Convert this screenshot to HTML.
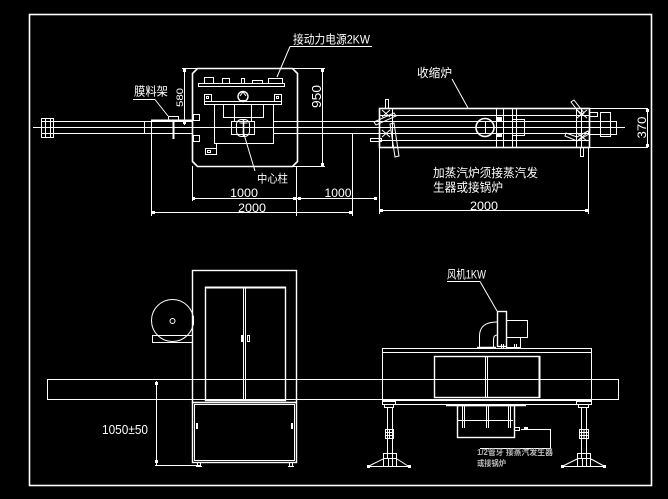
<!DOCTYPE html>
<html><head><meta charset="utf-8"><style>
html,body{margin:0;padding:0;background:#000;}
svg{display:block;}
text{font-family:"Liberation Sans","Noto Sans CJK SC",sans-serif;fill:#fff;}
</style></head><body>
<svg width="668" height="499" viewBox="0 0 668 499" xmlns="http://www.w3.org/2000/svg">
<rect width="668" height="499" fill="#000"/>
<g stroke="#fff" fill="none" stroke-width="1">
<!-- frame -->
<rect x="29.5" y="14.5" width="622" height="471" stroke-width="1.6"/>

<!-- ===== TOP VIEW LEFT ===== -->
<line x1="33" y1="127.5" x2="625" y2="127.5"/>
<line x1="41" y1="121.5" x2="192" y2="121.5"/>
<line x1="41" y1="133.5" x2="192" y2="133.5"/>
<line x1="273" y1="121.5" x2="380" y2="121.5"/>
<line x1="273" y1="133.5" x2="380" y2="133.5"/>
<rect x="41.5" y="118.5" width="12" height="19"/>
<line x1="45.5" y1="118" x2="45.5" y2="138"/>
<line x1="50.5" y1="118" x2="50.5" y2="138"/>
<line x1="144.5" y1="121" x2="144.5" y2="134"/>
<line x1="151.5" y1="120" x2="151.5" y2="216"/>
<line x1="151" y1="120.5" x2="192" y2="120.5" stroke-width="2"/>
<rect x="168.5" y="116.5" width="10" height="4"/>
<line x1="173.5" y1="120" x2="173.5" y2="139" stroke-width="2"/>
<!-- label 膜料架 leader -->
<line x1="133" y1="99.5" x2="155" y2="99.5"/>
<line x1="155" y1="99.5" x2="168" y2="116"/>

<!-- dims 580 / 950 -->
<line x1="182" y1="68.5" x2="325" y2="68.5"/>
<line x1="184.5" y1="68" x2="184.5" y2="125"/>
<line x1="322.5" y1="68" x2="322.5" y2="166"/>
<line x1="290" y1="166.5" x2="325" y2="166.5"/>

<!-- machine box -->
<polygon points="197.5,68.5 292.5,68.5 297.5,73.5 297.5,161.5 292.5,166.5 197.5,166.5 192.5,161.5 192.5,73.5" stroke-width="1.6"/>
<rect x="193.5" y="114.5" width="6" height="6"/>
<rect x="193.5" y="135.5" width="6" height="6"/>
<rect x="198.5" y="83.5" width="86" height="3"/>
<rect x="204.5" y="77.5" width="9" height="6"/>
<rect x="222.5" y="78.5" width="7" height="5"/>
<rect x="241.5" y="78.5" width="3" height="5"/>
<rect x="252.5" y="80.5" width="10" height="3"/>
<rect x="268.5" y="78.5" width="14" height="5"/>
<rect x="204.5" y="101.5" width="77" height="3"/>
<rect x="204.5" y="94.5" width="7" height="7"/>
<rect x="206.5" y="96.5" width="2" height="2"/>
<rect x="274.5" y="94.5" width="7" height="7"/>
<rect x="276.5" y="96.5" width="2" height="2"/>
<circle cx="243" cy="96.5" r="5" stroke-width="1.4"/>
<path d="M240,96 L243,92 L246,96 M239.5,100.5 L246.5,100.5"/>
<rect x="214.5" y="104.5" width="59" height="39"/>
<rect x="223.5" y="104.5" width="40" height="13"/>
<line x1="234.5" y1="104" x2="234.5" y2="121"/>
<line x1="251.5" y1="104" x2="251.5" y2="121"/>
<rect x="231.5" y="121.5" width="23" height="13"/>
<rect x="236.5" y="119.5" width="13" height="17" rx="5"/>
<line x1="243.5" y1="120" x2="243.5" y2="137" stroke-width="1.6"/>
<line x1="239.5" y1="123" x2="247.5" y2="123"/>
<line x1="216.5" y1="143" x2="216.5" y2="148"/>
<rect x="205.5" y="148.5" width="11" height="6"/>
<rect x="207.5" y="150.5" width="3" height="2"/>
<!-- leaders -->
<line x1="290" y1="46.5" x2="372" y2="46.5"/>
<line x1="290" y1="46.5" x2="277" y2="77"/>
<line x1="255" y1="171" x2="243" y2="131"/>

<!-- bottom dims -->
<line x1="192.5" y1="166" x2="192.5" y2="201"/>
<line x1="296.5" y1="166" x2="296.5" y2="216"/>
<line x1="352.5" y1="134" x2="352.5" y2="216"/>
<line x1="379.5" y1="147" x2="379.5" y2="214"/>
<line x1="588.5" y1="147" x2="588.5" y2="214"/>
<line x1="192" y1="198.5" x2="377" y2="198.5"/>
<line x1="151" y1="212.5" x2="352" y2="212.5"/>
<line x1="379" y1="210.5" x2="589" y2="210.5"/>

<!-- ===== TOP VIEW TUNNEL ===== -->
<rect x="379.5" y="108.5" width="210" height="39" stroke-width="1.6"/>
<line x1="380" y1="115.5" x2="589" y2="115.5"/>
<line x1="380" y1="121.5" x2="589" y2="121.5"/>
<line x1="380" y1="133.5" x2="589" y2="133.5"/>
<line x1="380" y1="140.5" x2="589" y2="140.5"/>
<line x1="589" y1="108.5" x2="648" y2="108.5"/>
<line x1="589" y1="147.5" x2="648" y2="147.5"/>
<line x1="647.5" y1="108" x2="647.5" y2="148"/>
<circle cx="485" cy="127.5" r="9" stroke-width="1.6"/>
<line x1="485.5" y1="122" x2="485.5" y2="133"/>
<rect x="496.5" y="108.5" width="7" height="39"/>
<rect x="512.5" y="108.5" width="4" height="39"/>
<rect x="512.5" y="119.5" width="12" height="16"/>
<!-- tunnel left end -->
<rect x="385.5" y="99.5" width="3" height="9"/>
<line x1="392.5" y1="108" x2="392.5" y2="148"/>
<rect x="370.5" y="138.5" width="11" height="3"/>
<path d="M382,110 l8,7 M390,110 l-8,7 M382,130 l8,7 M390,130 l-8,7" />
<polygon points="374,122 394,113 396,116 376,125"/>
<polygon points="390,124 394,123 399,156 395,157"/>
<!-- tunnel right end -->
<line x1="576.5" y1="108" x2="576.5" y2="148"/>
<line x1="581.5" y1="108" x2="581.5" y2="148"/>
<path d="M577,110 l10,8 M587,110 l-10,8 M577,133 l10,8 M587,133 l-10,8"/>
<polygon points="571,102 574,100 584,113 581,115"/>
<polygon points="566,133 577,137 588,131 589,134 577,141 565,136"/>
<rect x="580.5" y="147.5" width="3" height="9"/>
<rect x="589.5" y="112.5" width="8" height="4"/>
<rect x="600.5" y="112.5" width="10" height="24"/>
<rect x="589.5" y="121.5" width="27" height="13"/>
<line x1="452" y1="79" x2="468" y2="108"/>

<!-- ===== LOWER VIEW ===== -->
<rect x="47.5" y="379.5" width="571" height="20"/>
<!-- cabinet -->
<rect x="192.5" y="270.5" width="104" height="132" stroke-width="1.4"/>
<rect x="192.5" y="402.5" width="104" height="60" stroke-width="1.4"/>
<rect x="194.5" y="404.5" width="100" height="56"/>
<rect x="205.5" y="287.5" width="80" height="113" stroke-width="1.4"/>
<line x1="205" y1="287.5" x2="286" y2="287.5" stroke-width="2"/>
<line x1="243.5" y1="287" x2="243.5" y2="401"/>
<line x1="245.5" y1="287" x2="245.5" y2="401"/>
<rect x="247.5" y="335.5" width="2" height="6"/>
<path d="M197.5,462 v4 M200.5,462 v4 M196,466.5 h6 M289.5,462 v4 M292.5,462 v4 M288,466.5 h6"/>
<!-- film roll -->
<circle cx="172.5" cy="320.5" r="21"/>
<circle cx="172.5" cy="321" r="2.5"/>
<rect x="152.5" y="335.5" width="40" height="7"/>
<!-- dim 1050 -->
<line x1="156.5" y1="381" x2="156.5" y2="465"/>
<line x1="155" y1="465.5" x2="200" y2="465.5"/>

<!-- tunnel lower -->
<rect x="382.5" y="348.5" width="209" height="4"/>
<line x1="382.5" y1="352" x2="382.5" y2="401"/>
<line x1="591.5" y1="352" x2="591.5" y2="401"/>
<line x1="382" y1="400.5" x2="592" y2="400.5"/>
<line x1="384" y1="404.5" x2="590" y2="404.5"/>
<rect x="434.5" y="356.5" width="105" height="41" stroke-width="1.4"/>
<line x1="539.5" y1="356" x2="539.5" y2="398" stroke-width="2"/>
<line x1="485.5" y1="356" x2="485.5" y2="398"/>
<line x1="487.5" y1="356" x2="487.5" y2="398"/>
<!-- fan -->
<path d="M479.5,348 L479.5,336 Q479.5,322 497,322"/>
<path d="M493.5,347 L493.5,340 Q493.5,335 497,335"/>
<line x1="477" y1="347.5" x2="496" y2="347.5" stroke-width="1.6"/>
<rect x="497.5" y="311.5" width="9" height="35" stroke-width="1.4"/>
<rect x="506.5" y="320.5" width="21" height="17"/>
<rect x="506.5" y="337.5" width="14" height="10"/>
<path d="M501.5,344 v4 M503.5,344 v4 M514.5,344 v4 M516.5,344 v4"/>
<line x1="447" y1="281.5" x2="480" y2="281.5"/>
<line x1="480" y1="281.5" x2="497" y2="311"/>
<!-- steam box -->
<line x1="446" y1="405.5" x2="526" y2="405.5" stroke-width="1.4"/>
<rect x="457.5" y="405.5" width="57" height="32" stroke-width="1.4"/>
<path d="M462.5,406 v22 M464.5,406 v22 M486.5,406 v22 M488.5,406 v22 M508.5,406 v22 M510.5,406 v22"/>
<line x1="458" y1="420.5" x2="513" y2="420.5"/>
<rect x="514.5" y="427.5" width="5" height="3"/>
<path d="M521,429.5 H550.5 V448.5 H480"/>
<!-- legs -->
<rect x="382.5" y="401.5" width="13" height="3"/>
<rect x="384.5" y="404.5" width="9" height="3"/>
<line x1="387.5" y1="407" x2="387.5" y2="459"/>
<line x1="392.5" y1="407" x2="392.5" y2="459"/>
<rect x="385.5" y="429.5" width="8" height="9"/>
<path d="M385,432.5 h9 M385,435.5 h9 M389.5,429 v10"/>
<rect x="383.5" y="453.5" width="13" height="5"/>
<path d="M368,466.5 H409 M369,466 L383,459 M408,466 L397,459 M383.5,459 v7 M388.5,459 v7 M392.5,459 v7 M396.5,459 v7"/>
<rect x="576.5" y="401.5" width="15" height="3"/>
<rect x="578.5" y="404.5" width="10" height="3"/>
<line x1="581.5" y1="407" x2="581.5" y2="459"/>
<line x1="586.5" y1="407" x2="586.5" y2="459"/>
<rect x="579.5" y="429.5" width="9" height="9"/>
<path d="M579,432.5 h10 M579,435.5 h10 M584,429 v10"/>
<rect x="577.5" y="453.5" width="13" height="5"/>
<path d="M562,466.5 H605 M563,466 L577,459 M604,466 L591,459 M577.5,459 v7 M582.5,459 v7 M586.5,459 v7 M590.5,459 v7"/>
</g>

<!-- filled bits -->
<g fill="#fff" stroke="none">
<rect x="183" y="69" width="3" height="3"/><rect x="183" y="121" width="3" height="3"/>
<rect x="321" y="69" width="3" height="3"/><rect x="321" y="163" width="3" height="3"/>
<rect x="192" y="197" width="3" height="3"/><rect x="293" y="197" width="3" height="3"/>
<rect x="298" y="197" width="3" height="3"/><rect x="374" y="197" width="3" height="3"/>
<rect x="152" y="211" width="3" height="3"/><rect x="349" y="211" width="3" height="3"/>
<rect x="380" y="209" width="3" height="3"/><rect x="585" y="209" width="3" height="3"/>
<rect x="646" y="109" width="3" height="3"/><rect x="646" y="144" width="3" height="3"/>
<rect x="497" y="117" width="5" height="4"/><rect x="497" y="133" width="5" height="4"/>
<rect x="241" y="335" width="2" height="7"/>
<rect x="196" y="423" width="2" height="6"/><rect x="291" y="423" width="2" height="6"/>
<rect x="192" y="316" width="2" height="9"/>
<rect x="155" y="382" width="3" height="3"/><rect x="155" y="460" width="3" height="3"/>
<rect x="367" y="465" width="3" height="3"/><rect x="408" y="465" width="3" height="3"/>
<rect x="561" y="465" width="3" height="3"/><rect x="603" y="465" width="3" height="3"/>
<rect x="524" y="427" width="4" height="2"/>
</g>

<!-- text -->
<text x="134" y="95.5" font-size="12" textLength="34" lengthAdjust="spacingAndGlyphs">膜料架</text>
<text x="293" y="43.5" font-size="12" textLength="77" lengthAdjust="spacingAndGlyphs">接动力电源2KW</text>
<text x="257" y="182.5" font-size="11.5" textLength="31" lengthAdjust="spacingAndGlyphs">中心柱</text>
<text x="417" y="77" font-size="12" textLength="35" lengthAdjust="spacingAndGlyphs">收缩炉</text>
<text x="433" y="177" font-size="12" textLength="105" lengthAdjust="spacingAndGlyphs">加蒸汽炉须接蒸汽发</text>
<text x="433" y="191.5" font-size="12" textLength="70" lengthAdjust="spacingAndGlyphs">生器或接锅炉</text>
<text x="447" y="278.5" font-size="12" textLength="39" lengthAdjust="spacingAndGlyphs">风机1KW</text>
<text x="244" y="197" font-size="12" text-anchor="middle" textLength="28" lengthAdjust="spacingAndGlyphs">1000</text>
<text x="338" y="197" font-size="12" text-anchor="middle" textLength="27" lengthAdjust="spacingAndGlyphs">1000</text>
<text x="252" y="212" font-size="12" text-anchor="middle" textLength="28" lengthAdjust="spacingAndGlyphs">2000</text>
<text x="484" y="210" font-size="12" text-anchor="middle" textLength="28" lengthAdjust="spacingAndGlyphs">2000</text>
<text x="148" y="434" font-size="12.5" text-anchor="end" textLength="46" lengthAdjust="spacingAndGlyphs">1050±50</text>
<text transform="translate(183,97.5) rotate(-90)" font-size="9" text-anchor="middle" textLength="19" lengthAdjust="spacingAndGlyphs">580</text>
<text transform="translate(321,96.5) rotate(-90)" font-size="12.5" text-anchor="middle" textLength="23" lengthAdjust="spacingAndGlyphs">950</text>
<text transform="translate(646,127.5) rotate(-90)" font-size="12" text-anchor="middle" textLength="22" lengthAdjust="spacingAndGlyphs">370</text>
<text x="477" y="455" font-size="8" font-weight="bold" style="fill:#b8b8b8" textLength="76" lengthAdjust="spacingAndGlyphs">1/2管牙  接蒸汽发生器</text>
<text x="477" y="466" font-size="8" font-weight="bold" style="fill:#b8b8b8" textLength="29" lengthAdjust="spacingAndGlyphs">或接锅炉</text>
</svg>
</body></html>
